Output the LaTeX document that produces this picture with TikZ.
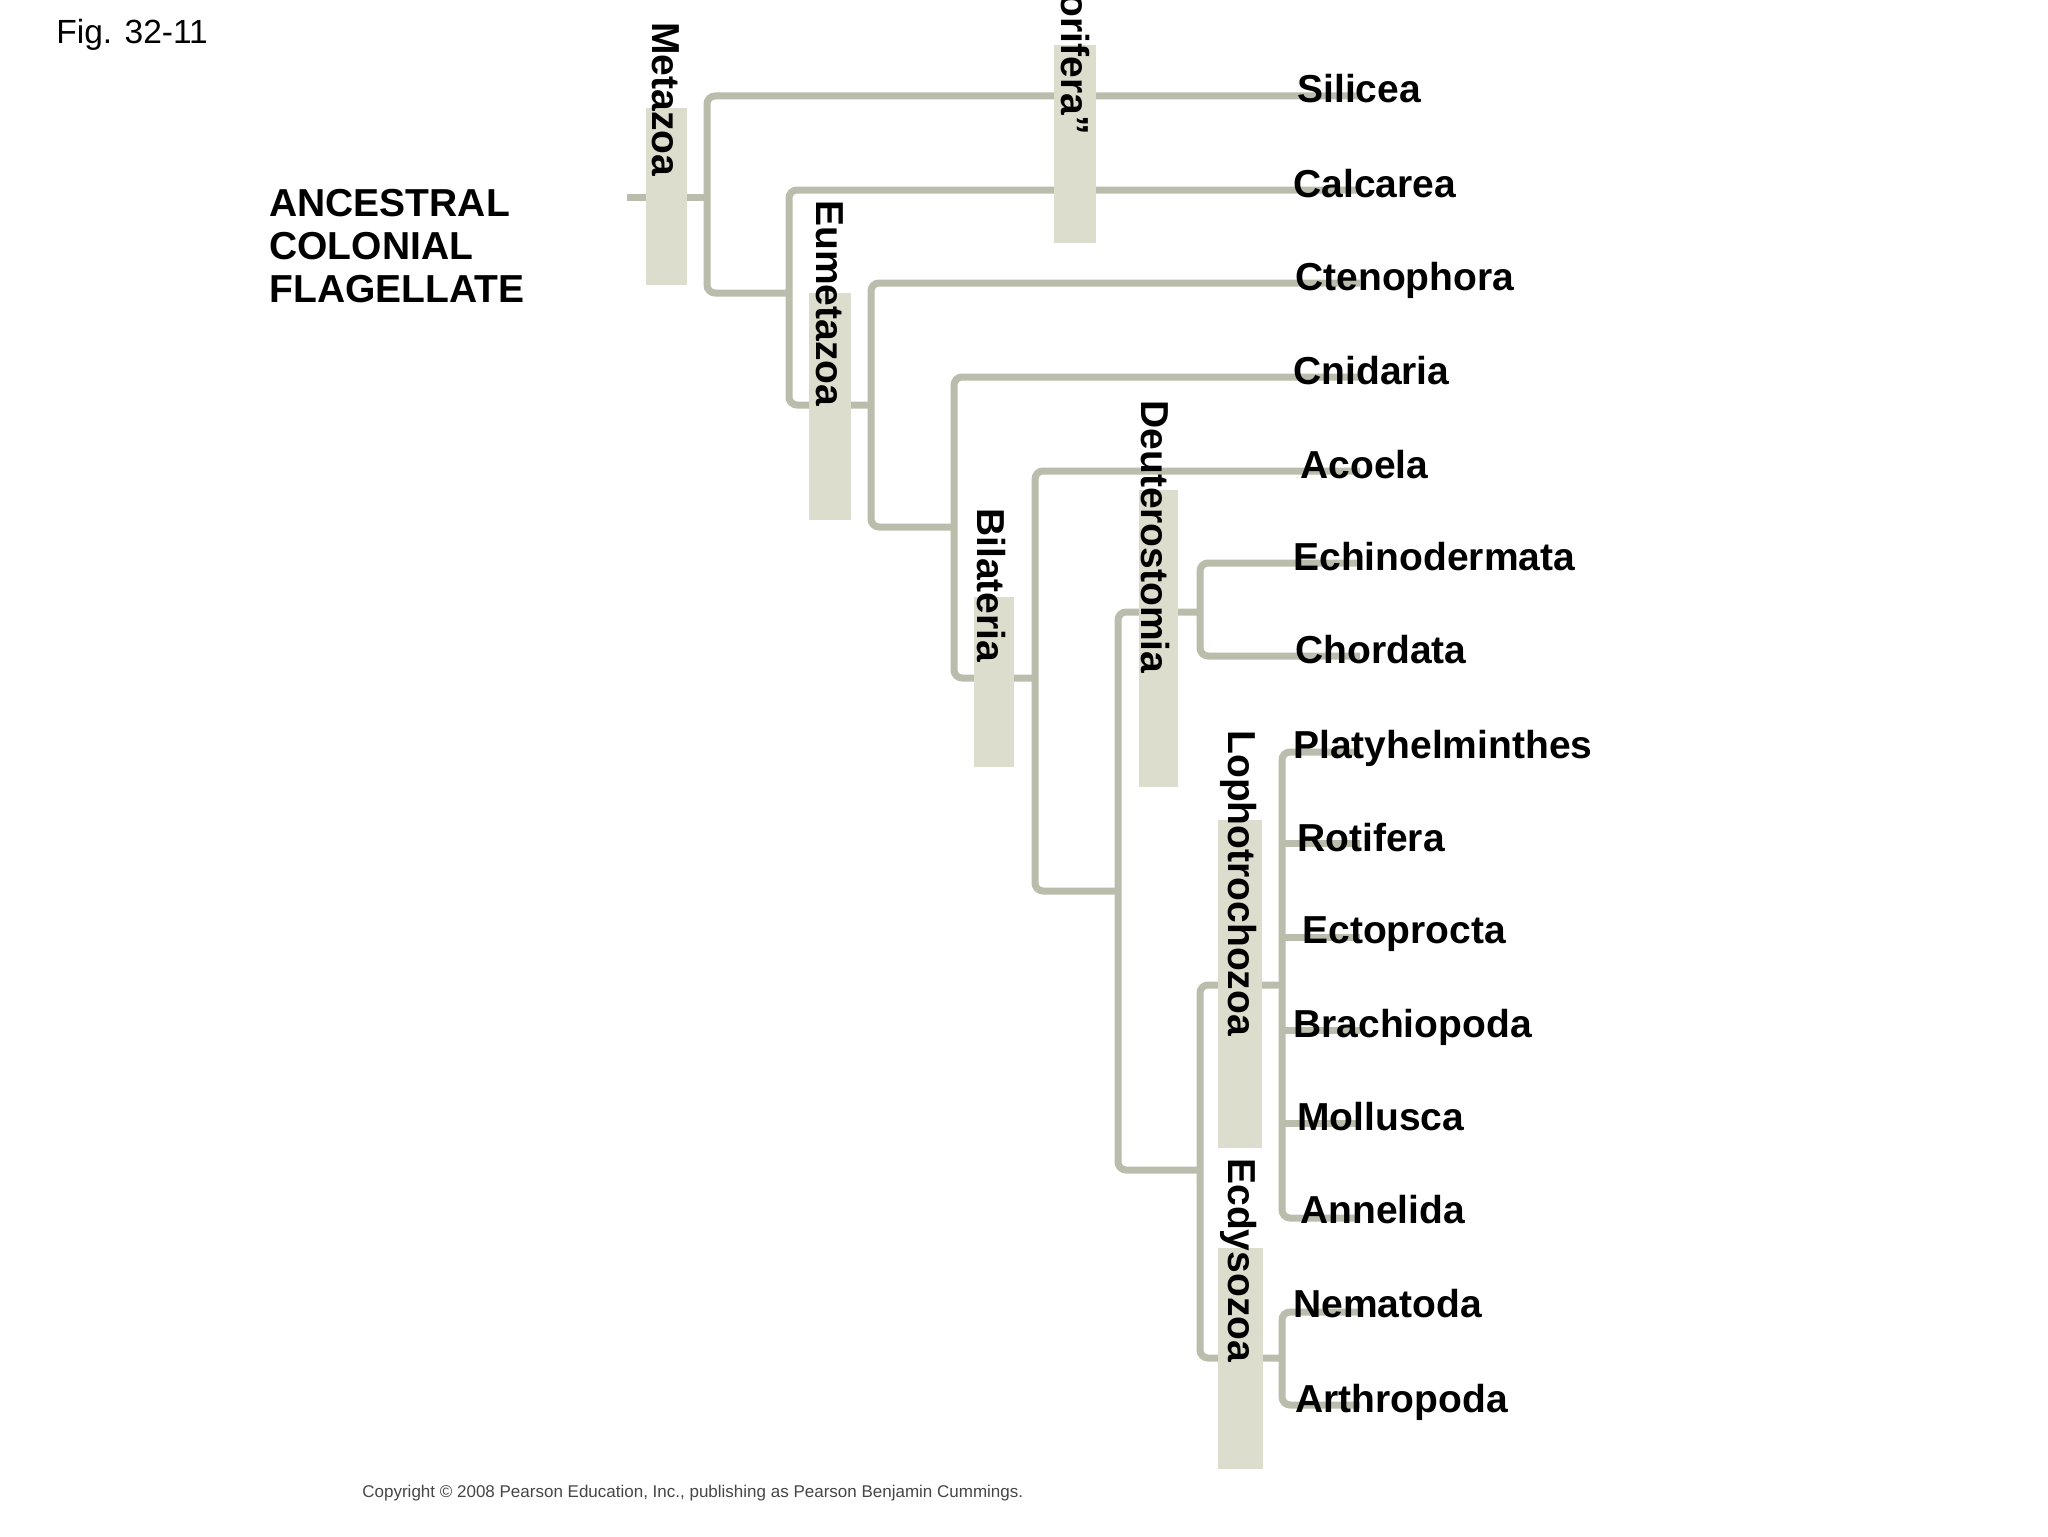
\documentclass[tikz,border=0pt]{standalone}
\usepackage{fontspec}
\setmainfont{Liberation Sans}
\definecolor{branchc}{RGB}{187,189,172}
\definecolor{boxc}{RGB}{220,221,205}
\definecolor{copyc}{RGB}{70,70,70}
\begin{document}
\begin{tikzpicture}[x=0.5pt,y=-0.5pt,
  branch/.style={draw=branchc, line width=3.5pt, rounded corners=4pt},
  cladebox/.style={fill=boxc},
  taxon/.style={anchor=base west, inner sep=0pt, font=\fontsize{19.5}{23}\selectfont\bfseries},
  clade/.style={rotate=-90, anchor=base west, inner sep=0pt, font=\fontsize{19.5}{23}\selectfont\bfseries},
  anc/.style={anchor=base west, inner sep=0pt, font=\fontsize{19.5}{23}\selectfont\bfseries}]
\useasboundingbox (0,0) rectangle (2048,1536);
\fill[white] (0,0) rectangle (2048,1536);

% junction coordinates
\coordinate (root) at (627,197);
\coordinate (mz) at (707,197);
\coordinate (eu) at (789,293);
\coordinate (ct) at (871,405);
\coordinate (bi) at (954,527);
\coordinate (ac) at (1035,678);
\coordinate (dp) at (1118,891);
\coordinate (de) at (1200,612);
\coordinate (pr) at (1200,1170);
\coordinate (lo) at (1282,985);
\coordinate (ec) at (1282,1358);
% leaf line ends
\coordinate (e0) at (1360,96);
\coordinate (e1) at (1360,190);
\coordinate (e2) at (1360,283);
\coordinate (e3) at (1360,377);
\coordinate (e4) at (1360,471);
\coordinate (e5) at (1360,563);
\coordinate (e6) at (1360,656);
\coordinate (e7) at (1360,752);
\coordinate (e8) at (1360,843);
\coordinate (e9) at (1360,937);
\coordinate (e10) at (1360,1030);
\coordinate (e11) at (1360,1123);
\coordinate (e12) at (1360,1218);
\coordinate (e13) at (1360,1312);
\coordinate (e14) at (1360,1405);

% branches
\draw[branch] (root) -- (mz);
\draw[branch] (e0) -| (mz) |- (eu);
\draw[branch] (e1) -| (eu) |- (ct);
\draw[branch] (e2) -| (ct) |- (bi);
\draw[branch] (e3) -| (bi) |- (ac);
\draw[branch] (e4) -| (ac) |- (dp);
\draw[branch] (de) -| (dp) |- (pr);
\draw[branch] (e5) -| (de) |- (e6);
\draw[branch] (lo) -| (pr) |- (ec);
\draw[branch] (e7) -| (lo) |- (e12);
\draw[branch] (lo |- e8) -- (e8);
\draw[branch] (lo |- e9) -- (e9);
\draw[branch] (lo |- e10) -- (e10);
\draw[branch] (lo |- e11) -- (e11);
\draw[branch] (e13) -| (ec) |- (e14);

% clade boxes
\path[cladebox] (646,108) rectangle (687,285);
\path[cladebox] (1054,45) rectangle (1096,243);
\path[cladebox] (809,293) rectangle (851,520);
\path[cladebox] (974,597) rectangle (1014,767);
\path[cladebox] (1139,490) rectangle (1178,787);
\path[cladebox] (1218,820) rectangle (1262,1148);
\path[cladebox] (1218,1248) rectangle (1263,1469);

% clade labels
\node[clade] (lMetazoa) at (652,22) {Metazoa};
\node[clade, anchor=base east] (lPorifera) at (1061,135) {“Porifera”};
\node[clade] (lEumetazoa) at (816,200) {Eumetazoa};
\node[clade] (lBilateria) at (977,508) {Bilateria};
\node[clade] (lDeutero) at (1141,400) {Deuterostomia};
\node[clade] (lLopho) at (1228,730) {Lophotrochozoa};
\node[clade] (lEcdy) at (1228,1158) {Ecdysozoa};

% taxa
\node[taxon] (tSilicea) at (1297,103) {Silicea};
\node[taxon] (tCalcarea) at (1293,197) {Calcarea};
\node[taxon] (tCteno) at (1295,290) {Ctenophora};
\node[taxon] (tCnid) at (1293,384) {Cnidaria};
\node[taxon] (tAcoela) at (1300,478) {Acoela};
\node[taxon] (tEchino) at (1293,570) {Echinodermata};
\node[taxon] (tChord) at (1295,663) {Chordata};
\node[taxon] (tPlaty) at (1293,758) {Platyhelminthes};
\node[taxon] (tRoti) at (1297,851) {Rotifera};
\node[taxon] (tEcto) at (1302,943) {Ectoprocta};
\node[taxon] (tBrach) at (1293,1037) {Brachiopoda};
\node[taxon] (tMoll) at (1297,1130) {Mollusca};
\node[taxon] (tAnne) at (1300,1223) {Annelida};
\node[taxon] (tNema) at (1293,1317) {Nematoda};
\node[taxon] (tArth) at (1295,1412) {Arthropoda};

% ancestor
\node[anc] (anc1) at (269,216) {ANCESTRAL};
\node[anc] (anc2) at (269,259) {COLONIAL};
\node[anc] (anc3) at (269,302) {FLAGELLATE};

% figure label and copyright
\node[anchor=base west, inner sep=0pt, font=\fontsize{16.75}{20}\selectfont] (fig) at (56,44) {Fig. 32-11};
\node[anchor=base west, inner sep=0pt, text=copyc, font=\fontsize{8.5}{10}\selectfont] (copy) at (362,1497) {Copyright © 2008 Pearson Education, Inc., publishing as Pearson Benjamin Cummings.};
\end{tikzpicture}
\end{document}
